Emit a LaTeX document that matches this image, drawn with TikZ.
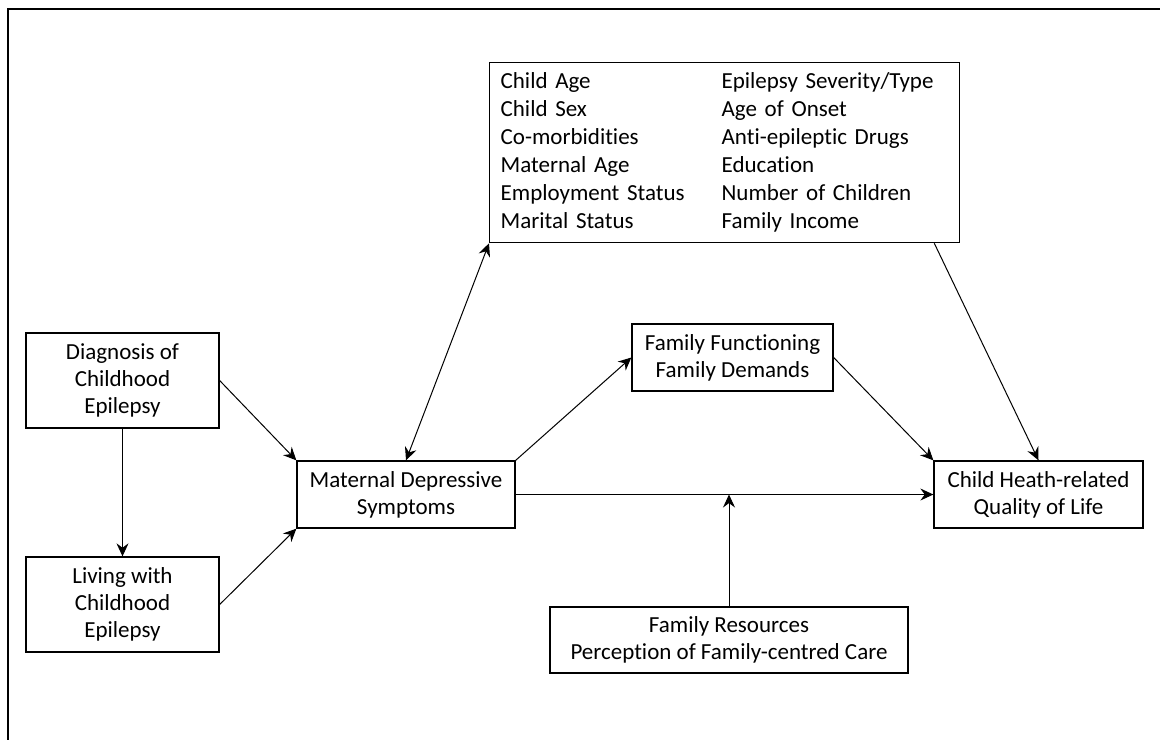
\documentclass[tikz,border=0pt]{standalone}
\usepackage{fontspec}
\setmainfont{Carlito}[Ligatures=NoCommon]
\usetikzlibrary{arrows.meta,positioning,calc}

\begin{document}
\begin{tikzpicture}[>={Stealth[length=6.5pt,width=6pt,inset=2.2pt]}, x=0.5pt, y=-0.5pt,
    caixa/.style={draw, line width=0.65pt, align=center, inner sep=0pt,
                  font=\fontsize{11.5}{13.5}\selectfont},
    seta/.style={->, line width=0.5pt}]

    \useasboundingbox (0,0) rectangle (1160,740);

    % moldura
    \draw[line width=1.3pt] (1160,9) -- (8,9) -- (8,740);

    % caixas
    \node[caixa, minimum width=96.5pt, minimum height=47.5pt] (diag) at (122.5,380.5) {Diagnosis of\\Childhood\\Epilepsy};
    \node[caixa, minimum width=96.5pt, minimum height=47.5pt] (living) at (122.5,604.5) {Living with\\Childhood\\Epilepsy};
    \node[caixa, minimum width=109pt, minimum height=33.5pt] (mat) at (406,494.5) {Maternal Depressive\\Symptoms};
    \node[caixa, minimum width=100.5pt, minimum height=33.5pt] (ff) at (732.5,357.5) {Family Functioning\\Family Demands};
    \node[caixa, minimum width=104.5pt, minimum height=33.5pt] (ch) at (1038.5,494.5) {Child Heath-related\\Quality of Life};
    \node[caixa, minimum width=179pt, minimum height=33pt] (res) at (729,640) {Family Resources\\Perception of Family-centred Care};

    % covariaveis
    \node[caixa, anchor=north west, align=left, minimum height=90pt, text width=224pt, inner xsep=5.5pt,
          font=\fontsize{11.5}{14}\selectfont] (cov) at (489,62)
        {\begin{tabular}{@{}p{110.5pt}@{}l@{}}
            Child Age & Epilepsy Severity/Type\\
            Child Sex & Age of Onset\\
            Co-morbidities & Anti-epileptic Drugs\\
            Maternal Age & Education\\
            Employment Status & Number of Children\\
            Marital Status & Family Income
        \end{tabular}};

    % setas
    \draw[seta] (diag.east) -- (mat.north west);
    \draw[seta] (living.east) -- (mat.south west);
    \draw[seta] (diag.south) -- (living.north);
    \draw[<->, line width=0.5pt] (cov.south west) -- (mat.north);
    \draw[seta] (mat.north east) -- (ff.west);
    \draw[seta] (ff.east) -- (ch.north west);
    \coordinate (covsaida) at ($(cov.south east)+(-26,0)$);
    \draw[seta] (covsaida) -- (ch.north);
    \draw[seta] (mat.east) -- (ch.west);
    \draw[seta] (res.north) -- (res.north |- mat.east);

\end{tikzpicture}
\end{document}
